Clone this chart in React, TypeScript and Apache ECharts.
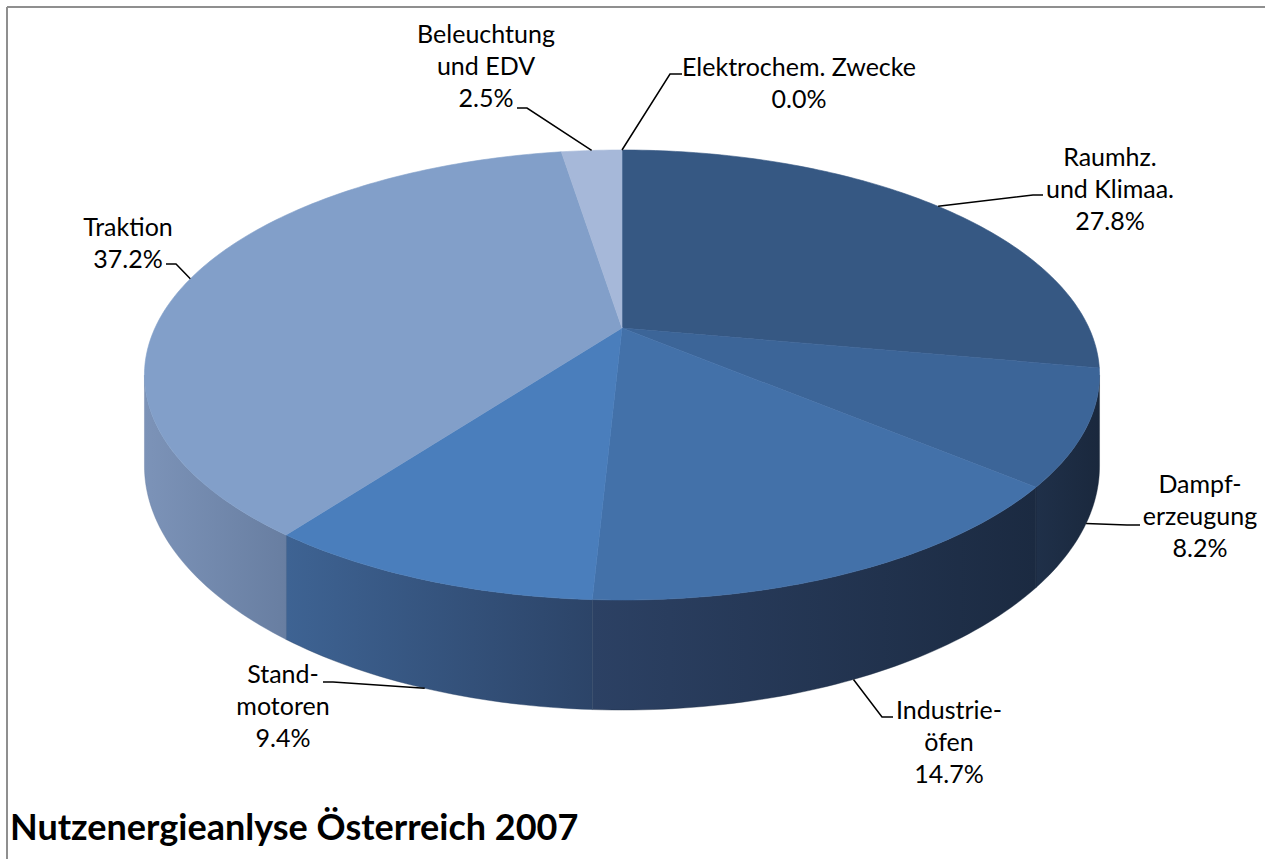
import React, { useEffect, useRef } from 'react';
import * as echarts from 'echarts';

// ---- data ----
const CATEGORIES = [
  'Raumhz.\nund Klimaa.',
  'Dampf-\nerzeugung',
  'Industrie-\nöfen',
  'Stand-\nmotoren',
  'Traktion',
  'Beleuchtung\nund EDV',
  'Elektrochem. Zwecke',
];
const SHARES = [27.8, 8.2, 14.7, 9.4, 37.2, 2.5, 0.0];
const TITLE = 'Nutzenergieanlyse Österreich 2007';

// ---- styling ----
const TOP_COLORS = ['#365883', '#3c6598', '#4371a9', '#4a7ebc', '#829fc9', '#a6b8d9', '#365883'];
// wall gradient [left, right]
const WALL_COLORS = [
  ['#243a5a', '#1d2d46'],
  ['#1f3049', '#1a283d'],
  ['#2c4164', '#1b2a41'],
  ['#3e6393', '#2c4468'],
  ['#7c93b8', '#687ea1'],
  ['#8e9fbd', '#8e9fbd'],
  ['#243a5a', '#1d2d46'],
];
// label block centre [x, y]
const LABEL_POS = [
  [1110, 188],
  [1200, 515],
  [949, 741],
  [283, 705],
  [128, 242],
  [486, 65],
  [799, 82],
];
// leader start + bend [x1, y1, x2, y2]
const LEADER_START = [
  [1043, 195, 1033, 195],
  [1140, 525, 1127, 525],
  [893, 717, 882, 717],
  [323, 682, 333, 682],
  [166, 264, 176, 264],
  [517, 108, 527, 108],
  [682, 74, 670, 74],
];

// ---- projection of the 3D pie ----
const CX = 622;
const CY = 328;
const RX = 467;
const RY = 215.2;
const PERSP = 0.209;
const DEPTH = 87;
const TMIN = Math.acos(-PERSP);
const TMAX = 2 * Math.PI - TMIN;

function topPt(t: number): number[] {
  const c = Math.cos(t);
  const s = Math.sin(t);
  const d = 1 + PERSP * c;
  return [CX + (RX * s) / d, CY - (RY * c) / d];
}
function botPt(t: number): number[] {
  const p = topPt(t);
  return [p[0], p[1] + DEPTH / (1 + PERSP * Math.cos(t))];
}

const FONT = 'Lato, "Open Sans", sans-serif';

export default function App() {
  const ref = useRef<HTMLDivElement>(null);
  useEffect(() => {
    if (!ref.current) return;
    const chart = echarts.init(ref.current, null, { renderer: 'svg' });
    const total = SHARES.reduce((a, b) => a + b, 0);

    const renderItem = (params: any) => {
      const i = params.dataIndex;
      let start = 0;
      for (let j = 0; j < i; j++) start += SHARES[j];
      const a0 = (start / total) * 2 * Math.PI;
      const a1 = ((start + SHARES[i]) / total) * 2 * Math.PI;
      const children: any[] = [];

      if (a1 > a0) {
        const n = Math.max(2, Math.ceil((a1 - a0) / (Math.PI / 180)));
        const pts: number[][] = [[CX, CY]];
        for (let k = 0; k <= n; k++) pts.push(topPt(a0 + ((a1 - a0) * k) / n));
        children.push({
          type: 'polygon',
          z2: 10,
          shape: { points: pts },
          style: { fill: TOP_COLORS[i], stroke: TOP_COLORS[i], lineWidth: 0.6 },
        });
      }

      const w0 = Math.max(a0, TMIN);
      const w1 = Math.min(a1, TMAX);
      if (w1 > w0) {
        const n = Math.max(2, Math.ceil((w1 - w0) / (Math.PI / 180)));
        const up: number[][] = [];
        const dn: number[][] = [];
        for (let k = 0; k <= n; k++) {
          const t = w0 + ((w1 - w0) * k) / n;
          up.push(topPt(t));
          dn.push(botPt(t));
        }
        const pts = up.concat(dn.reverse());
        children.push({
          type: 'polygon',
          z2: 1,
          shape: { points: pts },
          style: {
            fill: new echarts.graphic.LinearGradient(0, 0, 1, 0, [
              { offset: 0, color: WALL_COLORS[i][0] },
              { offset: 1, color: WALL_COLORS[i][1] },
            ]),
            stroke: WALL_COLORS[i][1],
            lineWidth: 0.4,
          },
        });
      }

      // leader line
      const mid = (a0 + a1) / 2;
      const anchor = Math.cos(mid) < -0.2 ? botPt(mid) : topPt(mid);
      const ls = LEADER_START[i];
      children.push({
        type: 'polyline',
        z2: 20,
        shape: { points: [[ls[0], ls[1]], [ls[2], ls[3]], anchor] },
        style: { stroke: '#000', lineWidth: 1.5, fill: 'none' },
      });

      // label
      const lp = LABEL_POS[i];
      children.push({
        type: 'text',
        z2: 20,
        style: {
          text: CATEGORIES[i] + '\n' + SHARES[i].toFixed(1) + '%',
          x: lp[0],
          y: lp[1],
          align: 'center',
          verticalAlign: 'middle',
          fontFamily: FONT,
          fontSize: 25,
          lineHeight: 32,
          fill: '#000',
        },
      });
      return { type: 'group', children };
    };

    chart.setOption({
      animation: false,
      backgroundColor: '#ffffff',
      graphic: [
        { type: 'line', shape: { x1: 7, y1: 7, x2: 1265, y2: 7 }, style: { stroke: '#8f8f8f', lineWidth: 2 } },
        { type: 'line', shape: { x1: 7, y1: 7, x2: 7, y2: 859 }, style: { stroke: '#8f8f8f', lineWidth: 2 } },
        {
          type: 'text',
          left: 10,
          top: 808,
          style: {
            text: TITLE,
            fontFamily: FONT,
            fontWeight: 'bold',
            fontSize: 36,
            fill: '#000',
          },
        },
      ],
      series: [
        {
          type: 'custom',
          coordinateSystem: 'none',
          silent: true,
          renderItem,
          data: SHARES.map((v, i) => ({ name: CATEGORIES[i], value: v })),
        },
      ],
    });
    return () => chart.dispose();
  }, []);

  return (
    <div
      ref={ref}
      style={{ position: 'absolute', left: 0, top: 0, width: 1265, height: 859 }}
    />
  );
}
